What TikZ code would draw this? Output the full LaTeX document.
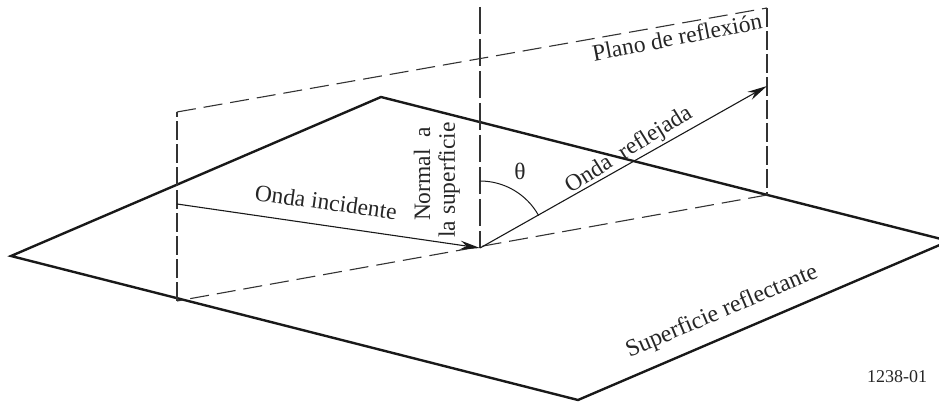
\documentclass[tikz,border=0pt]{standalone}
\usepackage{fontspec}
\setmainfont{Liberation Serif}
\usetikzlibrary{arrows.meta}

\begin{document}
\begin{tikzpicture}[
    x=1pt,y=-1pt,>={Stealth[length=20pt,width=9pt]},
    surface/.style={draw=black!90,line width=2.4pt,line join=miter},
    plane/.style={draw=black!80,line width=1.1pt,dash pattern=on 19pt off 8pt},
    side/.style={draw=black!80,line width=1.1pt,dash pattern=on 19pt off 4pt},
    normal/.style={draw=black!80,line width=1.1pt,dash pattern=on 27pt off 5pt},
    wave/.style={draw=black!90,line width=1.1pt,->},
    caption/.style={inner sep=0pt,font=\fontsize{23.5}{27}\selectfont,text=black!85}
]
 \useasboundingbox (0,0) rectangle (939,403);

 \coordinate (sl) at (11,256);
 \coordinate (st) at (381,97);
 \coordinate (sr) at (949,241);
 \coordinate (sb) at (578,400);

 \coordinate (pa) at (177,112);
 \coordinate (pb) at (767,8);
 \coordinate (pc) at (767,195);
 \coordinate (pd) at (177,301);

 \coordinate (o) at (480,248);
 \coordinate (n) at (480,7);
 \coordinate (w1) at (177,204);
 \coordinate (w2) at (767,86);
 \coordinate (t) at (480,181);

 \draw[surface] (sl) -- (st) -- (sr) -- (sb) -- cycle;

 \draw[plane] (pa) -- (pb);
 \draw[side] (pb) -- (pc);
 \draw[plane] (pc) -- (pd);
 \draw[side] (pd) -- (pa);
 \draw[normal] (n) -- (o);

 \draw[wave] (w1) -- (o);
 \draw[wave] (o) -- (w2);
 \draw[draw=black!90,line width=1pt] (t) arc[start angle=90,end angle=29,radius=67pt];

 \node (inc) [caption,rotate=-8] at (326,202) {Onda incidente};
 \node (nor) [caption,rotate=90] at (422,174) {Normal\ \ a};
 \node (sup) [caption,rotate=90] at (449,180) {la superficie};
 \node (ang) [caption] at (520,171) {θ};
 \node (ref) [caption,rotate=32] at (629,150) {Onda\ \ reflejada};
 \node (pla) [caption,rotate=11] at (677,37) {Plano de reflexión};
 \node (sfc) [caption,rotate=23,font=\fontsize{24}{27}\selectfont] at (722,312) {Superficie reflectante};
 \node (num) [caption,font=\fontsize{18}{20}\selectfont] at (897,377) {1238-01};
\end{tikzpicture}
\end{document}
